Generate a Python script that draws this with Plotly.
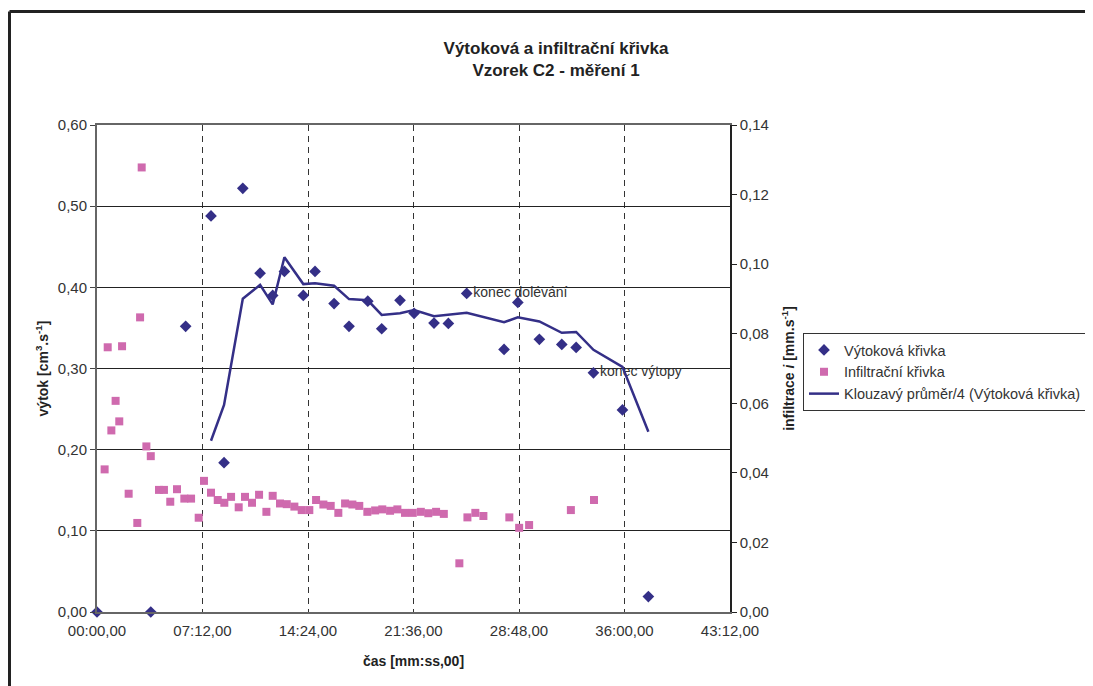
import plotly.graph_objects as go

# ---- data (time in minutes) ----
out_t = [0.0, 3.67, 6.05, 7.78, 8.67, 9.95, 11.13, 11.99, 12.79, 14.08, 14.88, 16.18, 17.2,
         18.48, 19.43, 20.68, 21.64, 23.0, 23.98, 25.23, 27.78, 28.72, 30.19, 31.72, 32.70,
         33.88, 35.86, 37.63]
out_v = [0.0, 0.0, 0.352, 0.488, 0.184, 0.522, 0.4175, 0.390, 0.4196, 0.390, 0.4196, 0.380, 0.352,
         0.383, 0.349, 0.384, 0.368, 0.356, 0.3555, 0.3925, 0.3235, 0.3814, 0.336, 0.3297, 0.326,
         0.2947, 0.249, 0.019]
out_labels = [""] * 19 + ["konec dolévání"] + [""] * 5 + ["konec výtopy", "", ""]

ma_t = [7.78, 8.67, 9.95, 11.13, 11.99, 12.79, 14.08, 14.88, 16.18, 17.2, 18.48, 19.43, 20.68,
        21.64, 23.0, 23.98, 25.23, 27.78, 28.72, 30.19, 31.72, 32.70, 33.88, 35.86, 37.63]
ma_v = [0.211, 0.255, 0.386, 0.403, 0.379, 0.437, 0.404, 0.405, 0.402, 0.3855, 0.384, 0.366, 0.368,
        0.372, 0.3645, 0.366, 0.3686, 0.357, 0.363, 0.358, 0.344, 0.345, 0.323, 0.302, 0.222]

inf_t = [0.52, 0.73, 0.98, 1.27, 1.52, 1.71, 2.16, 2.75, 2.94, 3.05, 3.37, 3.67, 4.23, 4.57, 5.0,
         5.46, 5.96, 6.42, 6.94, 7.30, 7.78, 8.24, 8.69, 9.15, 9.67, 10.1, 10.58, 11.06, 11.56,
         11.99, 12.49, 12.95, 13.47, 13.97, 14.49, 14.95, 15.45, 15.95, 16.47, 16.93, 17.43, 17.9,
         18.45, 18.98, 19.47, 20.0, 20.5, 21.02, 21.55, 22.1, 22.61, 23.14, 23.67, 24.73, 25.28,
         25.82, 26.37, 28.14, 28.81, 29.49, 32.34, 33.92]
inf_v = [0.0410, 0.0761, 0.0522, 0.0607, 0.0548, 0.0764, 0.0340, 0.0256, 0.0847, 0.1278, 0.0476,
         0.0448, 0.0351, 0.0351, 0.0317, 0.0353, 0.0326, 0.0326, 0.0271, 0.0377, 0.0343, 0.0322,
         0.0314, 0.0331, 0.0301, 0.0331, 0.0314, 0.0337, 0.0288, 0.0334, 0.0312, 0.0310, 0.0303,
         0.0293, 0.0293, 0.0322, 0.0309, 0.0305, 0.0285, 0.0312, 0.0309, 0.0305, 0.0288, 0.0292,
         0.0295, 0.0291, 0.0295, 0.0285, 0.0285, 0.0288, 0.0284, 0.0288, 0.0282, 0.0140, 0.0272,
         0.0285, 0.0276, 0.0272, 0.0242, 0.0250, 0.0293, 0.0322]

x_tickvals = [0, 7.2, 14.4, 21.6, 28.8, 36.0, 43.2]
x_ticktext = ["00:00,00", "07:12,00", "14:24,00", "21:36,00", "28:48,00", "36:00,00", "43:12,00"]

NAVY = "#342F87"
PINK = "#CF6AAE"
FONT = "Liberation Sans, Arial, sans-serif"

fig = go.Figure()
fig.add_trace(go.Scatter(
    x=out_t, y=out_v, mode="markers+text", name="Výtoková křivka",
    marker=dict(symbol="diamond", size=9, color=NAVY),
    text=out_labels, textposition="middle right",
    textfont=dict(size=14, color="#333333", family=FONT),
    cliponaxis=False, yaxis="y"))
fig.add_trace(go.Scatter(
    x=inf_t, y=inf_v, mode="markers", name="Infiltrační křivka",
    marker=dict(symbol="square", size=8, color=PINK),
    cliponaxis=False, yaxis="y2"))
fig.add_trace(go.Scatter(
    x=ma_t, y=ma_v, mode="lines", name="Klouzavý průměr/4 (Výtoková křivka)",
    line=dict(color=NAVY, width=2.5), yaxis="y"))

# page is offset by the 8px body margin; figure coords = page coords - 8
OFF = 8
W, H = 1093, 686 - OFF
L, T = 97 - OFF, 125 - OFF
pw, ph = 633, 487
R, B = W - L - pw, H - T - ph
def px(x): return (x - OFF - L) / pw          # page px -> paper x
def py(y): return (T + ph - (y - OFF)) / ph    # page px -> paper y

fig.add_shape(type="line", xref="paper", yref="paper", x0=px(9.5), x1=px(1110), y0=py(11.5), y1=py(11.5),
              line=dict(color="#222222", width=3))
fig.add_shape(type="line", xref="paper", yref="paper", x0=px(9.5), x1=px(9.5), y0=py(11.5), y1=py(700),
              line=dict(color="#222222", width=3))

fig.update_layout(
    width=W, height=H,
    margin=dict(l=L, r=R, t=T, b=B, autoexpand=False),
    paper_bgcolor="white", plot_bgcolor="white",
    separators=", ",
    font=dict(family=FONT, size=15, color="#333333"),
    title=dict(text="<b>Výtoková a infiltrační křivka<br>Vzorek C2 - měření 1</b>",
               x=(556 - OFF) / W, xref="container", xanchor="center",
               y=1 - 46 / H, yref="container", yanchor="middle",
               font=dict(size=17, color="#222222", family=FONT)),
    showlegend=True,
    legend=dict(x=px(803), y=py(333), xanchor="left", yanchor="top",
                bordercolor="#333333", borderwidth=1, bgcolor="white",
                font=dict(size=14.5, color="#333333", family=FONT)),
    xaxis=dict(range=[0, 43.2], tickvals=x_tickvals, ticktext=x_ticktext,
               showgrid=True, gridcolor="#333333", gridwidth=1, griddash="6px,5px",
               showline=True, linecolor="#666666", linewidth=1.5, mirror=True,
               ticks="", zeroline=False, ticklabelstandoff=4,
               title=dict(text="<b>čas [mm:ss,00]</b>", font=dict(size=14, color="#222222"), standoff=18)),
    yaxis=dict(range=[0, 0.6], dtick=0.1, tickformat=".2f",
               showgrid=True, gridcolor="#222222", gridwidth=1,
               showline=True, linecolor="#666666", linewidth=2,
               ticks="outside", ticklen=5, tickcolor="#444444", zeroline=False,
               title=dict(text="<b>výtok [cm<sup>3</sup>.s<sup>-1</sup>]</b>", font=dict(size=14, color="#222222"), standoff=6)),
    yaxis2=dict(range=[0, 0.14], dtick=0.02, tickformat=".2f", overlaying="y", side="right",
                showgrid=False, showline=True, linecolor="#222222", linewidth=1.5,
                ticks="outside", ticklen=5, tickcolor="#222222", zeroline=False,
                title=dict(text="<b>infiltrace <i>i</i> [mm.s<sup>-1</sup>]</b>", font=dict(size=14, color="#222222"), standoff=16)),
)

fig.write_html("out.html")
